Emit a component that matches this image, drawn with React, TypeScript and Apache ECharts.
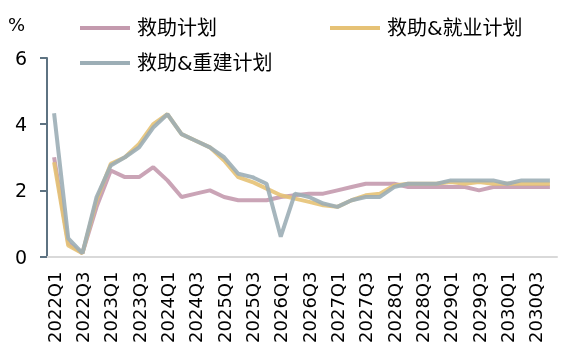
import React, { useEffect, useRef } from "react";
import * as echarts from "echarts";

const categories = [
  "2022Q1","2022Q2","2022Q3","2022Q4",
  "2023Q1","2023Q2","2023Q3","2023Q4",
  "2024Q1","2024Q2","2024Q3","2024Q4",
  "2025Q1","2025Q2","2025Q3","2025Q4",
  "2026Q1","2026Q2","2026Q3","2026Q4",
  "2027Q1","2027Q2","2027Q3","2027Q4",
  "2028Q1","2028Q2","2028Q3","2028Q4",
  "2029Q1","2029Q2","2029Q3","2029Q4",
  "2030Q1","2030Q2","2030Q3","2030Q4",
];

const seriesNames = ["救助计划", "救助&就业计划", "救助&重建计划"];

const rescue = [
  3.0, 0.4, 0.1, 1.5, 2.6, 2.4, 2.4, 2.7, 2.3, 1.8, 1.9, 2.0,
  1.8, 1.7, 1.7, 1.7, 1.8, 1.85, 1.9, 1.9, 2.0, 2.1, 2.2, 2.2,
  2.2, 2.1, 2.1, 2.1, 2.1, 2.1, 2.0, 2.1, 2.1, 2.1, 2.1, 2.1,
];

const rescueJobs = [
  2.85, 0.33, 0.1, 1.7, 2.8, 3.0, 3.4, 4.0, 4.3, 3.7, 3.5, 3.3,
  2.9, 2.4, 2.25, 2.05, 1.85, 1.75, 1.65, 1.55, 1.5, 1.7, 1.85, 1.9,
  2.15, 2.2, 2.2, 2.2, 2.25, 2.2, 2.25, 2.2, 2.2, 2.2, 2.2, 2.2,
];

const rescueRebuild = [
  4.33, 0.55, 0.1, 1.8, 2.75, 3.0, 3.3, 3.9, 4.3, 3.7, 3.5, 3.3,
  3.0, 2.5, 2.4, 2.2, 0.6, 1.9, 1.8, 1.6, 1.5, 1.7, 1.8, 1.8,
  2.1, 2.2, 2.2, 2.2, 2.3, 2.3, 2.3, 2.3, 2.2, 2.3, 2.3, 2.3,
];

const yTicks = { min: 0, max: 6, interval: 2 };

const colors = ["#C49AAE", "#E6C276", "#9CAEB6"];

const FONT = "'DejaVu Sans', 'Noto Sans CJK SC', sans-serif";

export default function App() {
  const ref = useRef<HTMLDivElement>(null);

  useEffect(() => {
    if (!ref.current) return;
    const chart = echarts.init(ref.current, null, { renderer: "svg" });
    const legendBase = {
      orient: "horizontal",
      icon: "rect",
      itemWidth: 50,
      itemHeight: 4,
      itemGap: 10,
      textStyle: { fontSize: 20, color: "#000", fontFamily: FONT, padding: [0, 0, 0, 2] },
      padding: 0,
    };
    chart.setOption({
      animation: false,
      color: colors,
      textStyle: { fontFamily: FONT },
      grid: { left: 47, right: 15, top: 58, bottom: 107.5, containLabel: false },
      legend: [
        { ...legendBase, left: 80, top: 18, data: [seriesNames[0]] },
        { ...legendBase, left: 330, top: 18, data: [seriesNames[1]] },
        { ...legendBase, left: 80, top: 53, data: [seriesNames[2]] },
      ],
      graphic: [
        {
          type: "text",
          left: 8,
          top: 15,
          style: { text: "%", fontSize: 18, fill: "#000", fontFamily: FONT },
        },
      ],
      xAxis: {
        type: "category",
        data: categories,
        boundaryGap: true,
        axisLine: { show: true, lineStyle: { color: "#D9D9D9", width: 2 } },
        axisTick: { show: false },
        axisLabel: {
          interval: 1,
          rotate: 90,
          fontSize: 18,
          color: "#000",
          margin: 15,
          fontFamily: FONT,
        },
        splitLine: { show: false },
      },
      yAxis: {
        type: "value",
        min: yTicks.min,
        max: yTicks.max,
        interval: yTicks.interval,
        axisLine: { show: true, lineStyle: { color: "#5E7382", width: 2 } },
        axisTick: { show: true, inside: false, length: 7, lineStyle: { color: "#5E7382", width: 2 } },
        axisLabel: { fontSize: 19, color: "#000", margin: 20, fontFamily: FONT },
        splitLine: { show: false },
      },
      series: [
        { name: seriesNames[0], data: rescue },
        { name: seriesNames[1], data: rescueJobs },
        { name: seriesNames[2], data: rescueRebuild },
      ].map((s, i) => ({
        ...s,
        type: "line",
        symbol: "none",
        lineStyle: { width: 4, color: colors[i], opacity: 0.9 },
        itemStyle: { color: colors[i] },
        z: 2 + i,
      })),
    });
    return () => chart.dispose();
  }, []);

  return (
    <div
      ref={ref}
      style={{ width: 572, height: 364, position: "fixed", left: 0, top: 0 }}
    />
  );
}
